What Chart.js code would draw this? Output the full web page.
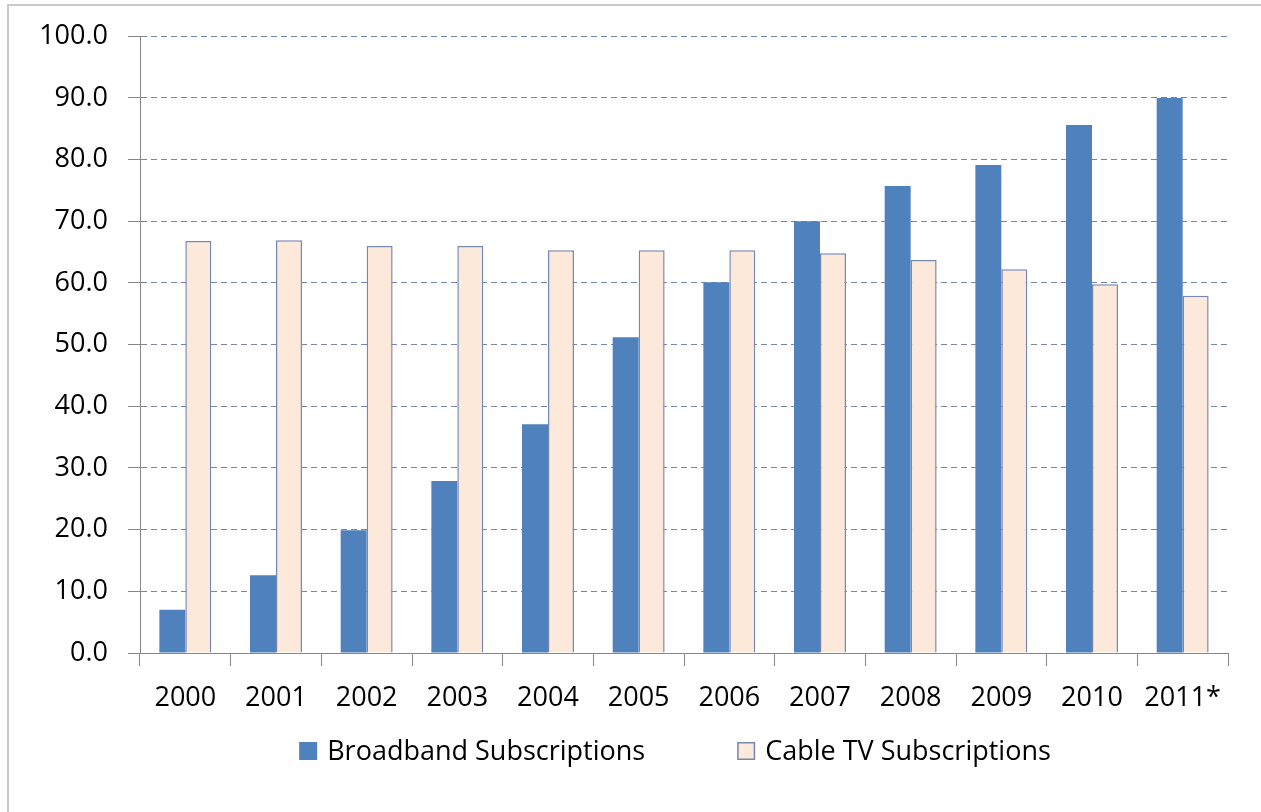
<!DOCTYPE html>
<html>
<head>
<meta charset="utf-8">
<title>Broadband and Cable TV Subscriptions</title>
<script src="https://cdn.jsdelivr.net/npm/chart.js@4.4.0/dist/chart.umd.min.js"></script>
<style>
  html, body { margin: 0; padding: 0; background: #ffffff; overflow: hidden; }
  #wrap { position: relative; width: 1261px; height: 812px; }
  #wrap::before {
    content: ""; position: absolute; left: 7px; top: 4px; width: 1300px; height: 900px;
    border-top: 2px solid #c9c9c9; border-left: 2px solid #c9c9c9; pointer-events: none;
  }
  canvas { display: block; }
</style>
</head>
<body>
<div id="wrap"><canvas id="chart" width="1261" height="812"></canvas></div>
<script>
// Subscriptions per year
const years = ['2000', '2001', '2002', '2003', '2004', '2005', '2006', '2007', '2008', '2009', '2010', '2011*'];
const broadband = [7.0, 12.6, 19.9, 27.9, 37.1, 51.2, 60.1, 70.0, 75.7, 79.1, 85.6, 90.0];
const cableTv = [66.8, 66.9, 66.0, 66.0, 65.3, 65.3, 65.3, 64.8, 63.7, 62.2, 59.8, 57.9];
const seriesNames = ['Broadband Subscriptions', 'Cable TV Subscriptions'];
const yMin = 0;
const yMax = 100;
const yStep = 10;

const FONT = { family: "'Open Sans', 'Liberation Sans', sans-serif", size: 27 };
const AXIS_GREY = '#868686';
const GRID_COLOR = '#7488ab';

// Legend drawn under the axis labels: square swatch followed by the series name
const bottomLegend = {
  id: 'bottomLegend',
  afterDraw(chart) {
    const ctx = chart.ctx;
    const box = 18, gap = 10, spacing = 92, centerX = 675, centerY = 751;
    ctx.save();
    ctx.font = FONT.size + 'px ' + FONT.family;
    ctx.textBaseline = 'middle';
    ctx.textAlign = 'left';
    const items = chart.data.datasets.map(ds => ({
      text: ds.label, fill: ds.backgroundColor, stroke: ds.borderWidth ? ds.borderColor : null
    }));
    const widths = items.map(it => box + gap + ctx.measureText(it.text).width);
    const total = widths.reduce((a, b) => a + b, 0) + spacing * (items.length - 1);
    let x = centerX - total / 2;
    items.forEach((it, i) => {
      ctx.fillStyle = it.fill;
      ctx.fillRect(x, centerY - box / 2, box, box);
      if (it.stroke) {
        ctx.strokeStyle = it.stroke;
        ctx.lineWidth = 1.5;
        ctx.strokeRect(x + 0.75, centerY - box / 2 + 0.75, box - 1.5, box - 1.5);
      }
      ctx.fillStyle = '#000000';
      ctx.fillText(it.text, x + box + gap, centerY + 1);
      x += widths[i] + spacing;
    });
    ctx.restore();
  }
};

new Chart(document.getElementById('chart'), {
  type: 'bar',
  data: {
    labels: years,
    datasets: [
      {
        label: seriesNames[0],
        data: broadband,
        backgroundColor: '#4f81bd',
        borderWidth: 0,
        categoryPercentage: 0.573,
        barPercentage: 1.0
      },
      {
        label: seriesNames[1],
        data: cableTv,
        backgroundColor: '#fde9d9',
        borderColor: '#7587b4',
        borderWidth: 1.5,
        categoryPercentage: 0.573,
        barPercentage: 1.0
      }
    ]
  },
  options: {
    responsive: false,
    animation: false,
    devicePixelRatio: 1,
    layout: { padding: { left: 0, top: 36, right: 33, bottom: 0 } },
    plugins: {
      legend: { display: false },
      tooltip: { enabled: false }
    },
    scales: {
      x: {
        grid: {
          display: true,
          drawOnChartArea: false,
          drawTicks: true,
          tickLength: 13,
          tickColor: AXIS_GREY,
          offset: true
        },
        border: { display: true, color: AXIS_GREY, width: 1 },
        ticks: {
          font: FONT,
          color: '#000000',
          padding: 16,
          maxRotation: 0,
          autoSkip: false
        },
        afterFit(scale) { scale.height = 159; }
      },
      y: {
        min: yMin,
        max: yMax,
        grid: {
          color: c => (c.tick && c.tick.value === yMin) ? 'rgba(0,0,0,0)' : GRID_COLOR,
          lineWidth: 1,
          drawTicks: true,
          tickLength: 12,
          tickColor: AXIS_GREY
        },
        border: { display: true, color: AXIS_GREY, width: 1, dash: [6, 4] },
        ticks: {
          stepSize: yStep,
          font: FONT,
          color: '#000000',
          padding: 20,
          callback: v => Number(v).toFixed(1)
        },
        afterFit(scale) { scale.width = 140; }
      }
    }
  },
  plugins: [bottomLegend]
});
</script>
</body>
</html>
